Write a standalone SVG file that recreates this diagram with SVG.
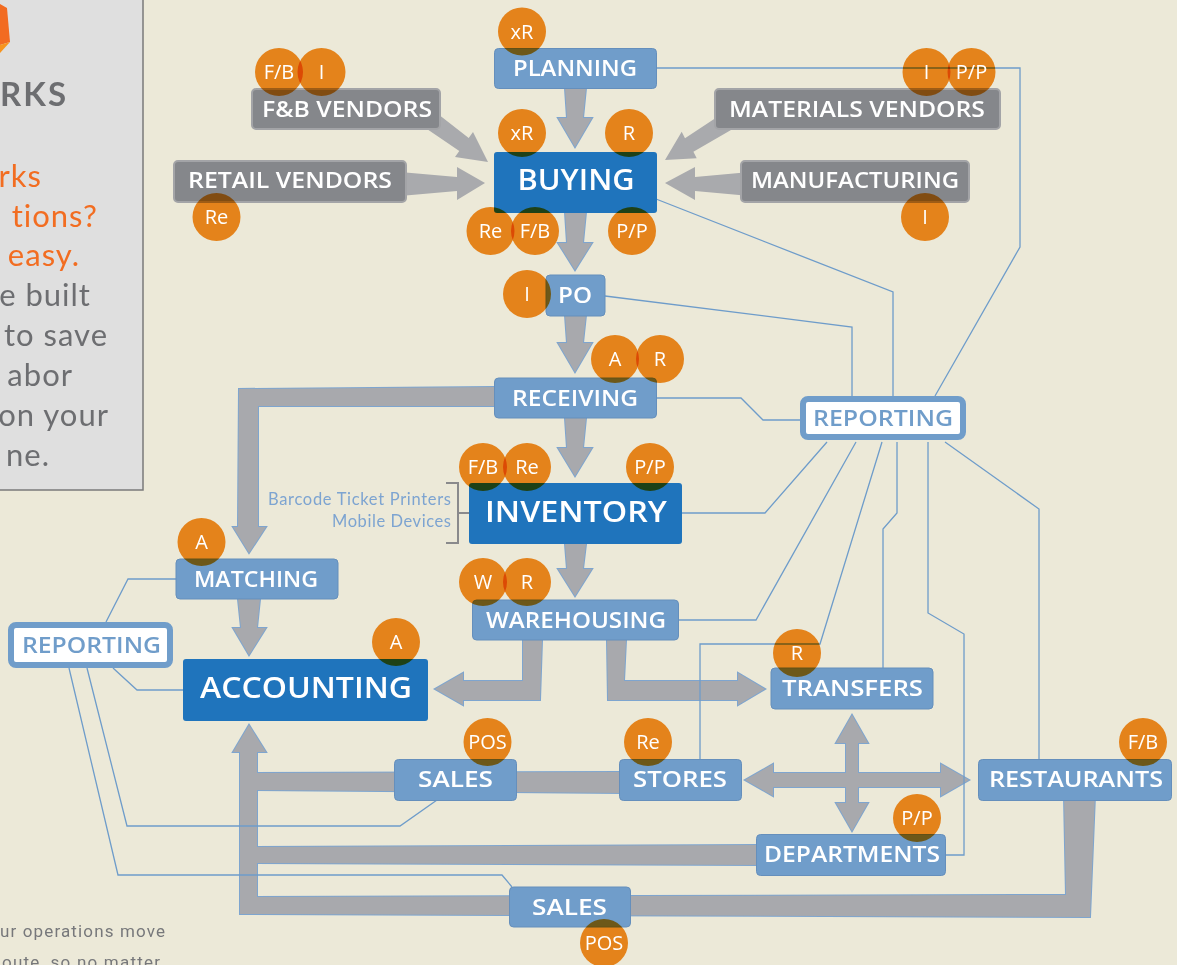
<svg xmlns="http://www.w3.org/2000/svg" xmlns:xlink="http://www.w3.org/1999/xlink" width="1177" height="965" viewBox="0 0 1177 965">
<style>
.lbl{font-family:"Open Sans",Lato,"Liberation Sans",sans-serif;font-weight:600;fill:#fff;font-size:21px;text-anchor:middle}
.big{font-size:29px}
.rl{fill:#709DCA}
.gray{fill:#85878B;stroke:#A3A4A7;stroke-width:2}
.lb{fill:#709DCA;stroke:#658FBC;stroke-width:1}
.db{fill:#1F74BC}
.rep{fill:#fff;stroke:#709DCA;stroke-width:6}
.badge{fill:#F78F1F;mix-blend-mode:multiply}
.bt{font-family:"Open Sans",Lato,"Liberation Sans",sans-serif;font-size:20px;fill:#fff;text-anchor:middle}
.link{fill:none;stroke:#6E9CCA;stroke-width:1.3}
.aS{fill:none;stroke:#7EA5CF;stroke-width:2;stroke-linejoin:miter}
.aF{fill:#A8A9AD;stroke:none}
.vend{fill:#A9AAAD}
.pt{font-family:Lato,"Open Sans","Liberation Sans",sans-serif;font-size:31px;text-anchor:end;letter-spacing:1px}
.g{fill:#6D6E71}
.o{fill:#F26D21}
</style>
<defs>
<g id="arrowShapes">
<polygon points="565,88 586,88 583,118 592,118 575,147 558,118 567,118"/>
<polygon points="565,212 586,212 583,243 592,243 575,270 558,243 567,243"/>
<polygon points="565,315 586,315 583,343 592,343 575,372 558,343 567,343"/>
<polygon points="565,418 586,418 583,448 592,448 575,476 558,448 567,448"/>
<polygon points="565,544 586,544 583,569 592,569 575,596 558,569 567,569"/>
<polygon points="494,387 239,389 238,527 233,527 249,553 266,527 258,527 258,406 494,406"/>
<polygon points="238,599 260,599 257,628 266,628 249,655 233,628 241,628"/>
<polygon points="523,640 542,640 540,700 463,700 463,705 435,689 463,673 463,681 523,681"/>
<polygon points="607,640 626,640 624,681 738,681 738,673 765,689 738,705 738,700 608,700"/>
<polygon points="773,773 941,773 941,764 969,780 941,796 941,787 773,787 773,796 745,780 773,764"/>
<polygon points="846,743 836,743 852,715 868,743 858,743 858,803 868,803 852,831 836,803 846,803"/>
<polygon points="240,914 240,752 233,752 249,725 266,752 257,752 257,914"/>
<polygon points="250,773 622,772 622,793 250,790"/>
<polygon points="250,847 760,845 760,865 250,863"/>
<polygon points="250,897 1066,895 1064,795 1095,795 1090,917 240,914 240,897"/>
</g>
</defs>
<rect width="1177" height="965" fill="#ECE9D8"/>

<g id="panel">
<rect x="-5" y="-5" width="148" height="495" fill="#DFDFDF" stroke="#7A7A7A" stroke-width="1.5"/>
<polygon points="0,4 7,8 10,42 0,45" fill="#F26B21"/>
<polygon points="0,45 10,42 0,53" fill="#F7941D"/>
<text class="pt g" x="68" y="106" style="font-size:33px;font-weight:700;letter-spacing:2px">RKS</text>
<text class="pt o" x="42" y="187">rks</text>
<text class="pt o" x="98" y="227">tions?</text>
<text class="pt o" x="80" y="266">easy.</text>
<text class="pt g" x="91" y="306">e built</text>
<text class="pt g" x="108" y="346">to save</text>
<text class="pt g" x="73" y="386">abor</text>
<text class="pt g" x="109" y="426">on your</text>
<text class="pt g" x="50" y="466">ne.</text>
</g>
<g id="footnote" font-family="Roboto,'Liberation Sans',sans-serif" font-size="17" fill="#77787B">
<text x="0" y="937" textLength="165">ur operations move</text>
<text x="2" y="968" textLength="158">oute, so no matter</text>
</g>

<g id="connectors">
<use xlink:href="#arrowShapes" class="aS"/>
<use xlink:href="#arrowShapes" class="aF"/>
<polygon class="vend" points="421.3,101.1 468.7,138 473,132 488,162 455,157 459.3,151 409.7,117.3"/>
<polygon class="vend" points="400,172 457,177 457,167 485,183 457,200 457,191 400,196"/>
<polygon class="vend" points="743.3,99.7 685,138.2 681.7,131.7 665,160 696.7,158.3 693.4,151.8 753.9,116.7"/>
<polygon class="vend" points="750,172 695,177 695,167 665,183 695,200 695,191 750,196"/>
<polyline class="link" points="656,68 1020,68 1020,247 935,396"/>
<polyline class="link" points="656,199 893,292 893,396"/>
<polyline class="link" points="605,296 852,327 852,396"/>
<polyline class="link" points="656,398 741,398 763,420 800,420"/>
<polyline class="link" points="682,513 765,513 827,442"/>
<polyline class="link" points="678,620 756,620 856,442"/>
<polyline class="link" points="700,759 700,644 820,644 882,442"/>
<polyline class="link" points="883,668 883,529 897,513 897,442"/>
<polyline class="link" points="928,442 928,613 964,634 964,855 945,855"/>
<polyline class="link" points="945,442 1039,509 1039,759"/>
<polyline class="link" points="176,579 128,579 106,622"/>
<polyline class="link" points="183,690 137,690 113,668"/>
<polyline class="link" points="87,668 127,826 400,826 437,800"/>
<polyline class="link" points="69,668 118,875 502,875 512,887"/>
<path d="M446,483 H458 V543 H446 M458,513 H469" fill="none" stroke="#8A8A8C" stroke-width="2"/>
</g>

<g id="planning"><rect class="lb" x="494.5" y="48.5" width="162" height="40" rx="4"/><text class="lbl" x="575" y="76" textLength="124" lengthAdjust="spacingAndGlyphs">PLANNING</text></g>
<g id="fb-vendors"><rect class="gray" x="252" y="89" width="188" height="40" rx="4"/><text class="lbl" x="347" y="116.5" textLength="170" lengthAdjust="spacingAndGlyphs">F&amp;B VENDORS</text></g>
<g id="materials-vendors"><rect class="gray" x="715" y="89" width="285" height="40" rx="4"/><text class="lbl" x="857" y="116.5" textLength="256" lengthAdjust="spacingAndGlyphs">MATERIALS VENDORS</text></g>
<g id="retail-vendors"><rect class="gray" x="174" y="161" width="232" height="41" rx="4"/><text class="lbl" x="290" y="188" textLength="204" lengthAdjust="spacingAndGlyphs">RETAIL VENDORS</text></g>
<g id="manufacturing"><rect class="gray" x="741" y="161" width="228" height="41" rx="4"/><text class="lbl" x="855" y="188" textLength="208" lengthAdjust="spacingAndGlyphs">MANUFACTURING</text></g>
<g id="buying"><rect class="db" x="494" y="152" width="163" height="61" rx="3"/><text class="lbl big" x="576" y="190" textLength="117" lengthAdjust="spacingAndGlyphs">BUYING</text></g>
<g id="po"><rect class="lb" x="546" y="275" width="59" height="41" rx="4"/><text class="lbl" x="575" y="302.5" textLength="34" lengthAdjust="spacingAndGlyphs">PO</text></g>
<g id="receiving"><rect class="lb" x="494.5" y="378" width="162" height="40" rx="4"/><text class="lbl" x="575" y="405.5" textLength="126" lengthAdjust="spacingAndGlyphs">RECEIVING</text></g>
<g id="reporting-right"><rect class="rep" x="803" y="399" width="160" height="38" rx="5"/><text class="lbl rl" x="883" y="425.5" textLength="140" lengthAdjust="spacingAndGlyphs">REPORTING</text></g>
<g id="inventory"><rect class="db" x="469" y="483" width="213" height="61" rx="3"/><text class="lbl big" x="576" y="522" textLength="182" lengthAdjust="spacingAndGlyphs">INVENTORY</text></g>
<g id="devices" font-family="Lato,'Open Sans','Liberation Sans',sans-serif" font-size="16.5" fill="#7DA4D1" text-anchor="end">
<text x="451" y="505" textLength="183">Barcode Ticket Printers</text>
<text x="451" y="527" textLength="119">Mobile Devices</text>
</g>
<g id="matching"><rect class="lb" x="176" y="559" width="162" height="40" rx="4"/><text class="lbl" x="256" y="586.5" textLength="124" lengthAdjust="spacingAndGlyphs">MATCHING</text></g>
<g id="warehousing"><rect class="lb" x="472.5" y="600" width="206" height="40" rx="4"/><text class="lbl" x="576" y="627.5" textLength="180" lengthAdjust="spacingAndGlyphs">WAREHOUSING</text></g>
<g id="reporting-left"><rect class="rep" x="11" y="625" width="159" height="40" rx="5"/><text class="lbl rl" x="91.5" y="652.5" textLength="139" lengthAdjust="spacingAndGlyphs">REPORTING</text></g>
<g id="accounting"><rect class="db" x="183" y="659" width="245" height="62" rx="3"/><text class="lbl big" x="306" y="698" textLength="212" lengthAdjust="spacingAndGlyphs">ACCOUNTING</text></g>
<g id="transfers"><rect class="lb" x="771" y="668" width="162" height="41" rx="4"/><text class="lbl" x="852.5" y="695.5" textLength="141" lengthAdjust="spacingAndGlyphs">TRANSFERS</text></g>
<g id="sales-upper"><rect class="lb" x="394.5" y="759.5" width="122" height="41" rx="4"/><text class="lbl" x="455.5" y="787" textLength="75" lengthAdjust="spacingAndGlyphs">SALES</text></g>
<g id="stores"><rect class="lb" x="619.5" y="759.5" width="122" height="41" rx="4"/><text class="lbl" x="680" y="787" textLength="94" lengthAdjust="spacingAndGlyphs">STORES</text></g>
<g id="restaurants"><rect class="lb" x="978.5" y="759.5" width="193" height="41" rx="4"/><text class="lbl" x="1076" y="787" textLength="174" lengthAdjust="spacingAndGlyphs">RESTAURANTS</text></g>
<g id="departments"><rect class="lb" x="756.5" y="834.5" width="189" height="41" rx="4"/><text class="lbl" x="852" y="862" textLength="176" lengthAdjust="spacingAndGlyphs">DEPARTMENTS</text></g>
<g id="sales-lower"><rect class="lb" x="509.5" y="887" width="121" height="40" rx="4"/><text class="lbl" x="569.5" y="914.5" textLength="75" lengthAdjust="spacingAndGlyphs">SALES</text></g>

<g id="badges">
<circle class="badge" cx="522" cy="31.5" r="24"/>
<circle class="badge" cx="279" cy="72" r="24"/>
<circle class="badge" cx="321.5" cy="72" r="24"/>
<circle class="badge" cx="926.5" cy="72" r="24"/>
<circle class="badge" cx="971.5" cy="72" r="24"/>
<circle class="badge" cx="522" cy="133" r="24"/>
<circle class="badge" cx="629" cy="133" r="24"/>
<circle class="badge" cx="216.5" cy="217" r="24"/>
<circle class="badge" cx="925" cy="217" r="24"/>
<circle class="badge" cx="490.5" cy="231" r="24"/>
<circle class="badge" cx="535" cy="231" r="24"/>
<circle class="badge" cx="632" cy="231" r="24"/>
<circle class="badge" cx="527" cy="294" r="24"/>
<circle class="badge" cx="615" cy="359" r="24"/>
<circle class="badge" cx="660" cy="359" r="24"/>
<circle class="badge" cx="483" cy="467" r="24"/>
<circle class="badge" cx="527" cy="467" r="24"/>
<circle class="badge" cx="650" cy="467" r="24"/>
<circle class="badge" cx="483" cy="582" r="24"/>
<circle class="badge" cx="527" cy="582" r="24"/>
<circle class="badge" cx="201.5" cy="542" r="24"/>
<circle class="badge" cx="396" cy="642" r="24"/>
<circle class="badge" cx="797" cy="653" r="24"/>
<circle class="badge" cx="487.5" cy="742" r="24"/>
<circle class="badge" cx="648" cy="742" r="24"/>
<circle class="badge" cx="1143" cy="742" r="24"/>
<circle class="badge" cx="917" cy="818" r="24"/>
<circle class="badge" cx="604" cy="943" r="24"/>
</g>
<g id="badge-labels">
<text class="bt" x="522" y="38.5">xR</text>
<text class="bt" x="279" y="79">F/B</text>
<text class="bt" x="321.5" y="79">I</text>
<text class="bt" x="926.5" y="79">I</text>
<text class="bt" x="971.5" y="79">P/P</text>
<text class="bt" x="522" y="140">xR</text>
<text class="bt" x="629" y="140">R</text>
<text class="bt" x="216.5" y="224">Re</text>
<text class="bt" x="925" y="224">I</text>
<text class="bt" x="490.5" y="238">Re</text>
<text class="bt" x="535" y="238">F/B</text>
<text class="bt" x="632" y="238">P/P</text>
<text class="bt" x="527" y="301">I</text>
<text class="bt" x="615" y="366">A</text>
<text class="bt" x="660" y="366">R</text>
<text class="bt" x="483" y="474">F/B</text>
<text class="bt" x="527" y="474">Re</text>
<text class="bt" x="650" y="474">P/P</text>
<text class="bt" x="483" y="589">W</text>
<text class="bt" x="527" y="589">R</text>
<text class="bt" x="201.5" y="549">A</text>
<text class="bt" x="396" y="649">A</text>
<text class="bt" x="797" y="660">R</text>
<text class="bt" x="487.5" y="749">POS</text>
<text class="bt" x="648" y="749">Re</text>
<text class="bt" x="1143" y="749">F/B</text>
<text class="bt" x="917" y="825">P/P</text>
<text class="bt" x="604" y="950">POS</text>
</g>
</svg>
